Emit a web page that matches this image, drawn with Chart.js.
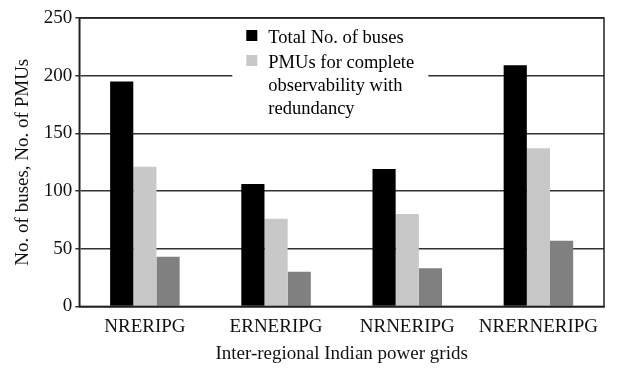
<!DOCTYPE html>
<html>
<head>
<meta charset="utf-8">
<script src="https://cdn.jsdelivr.net/npm/chart.js@4/dist/chart.umd.min.js"></script>
<style>
  html, body { margin: 0; padding: 0; background: #fff; }
  #wrap { width: 618px; height: 374px; }
</style>
</head>
<body>
<div id="wrap"><canvas id="gridChart" width="618" height="374"></canvas></div>
<script>
const grids = ['NRERIPG', 'ERNERIPG', 'NRNERIPG', 'NRERNERIPG'];
const totalBuses = [195, 106, 119, 209];
const pmusRedundancy = [121, 76, 80, 137];
const pmusThird = [43, 30, 33, 57];
const yTicks = [0, 50, 100, 150, 200, 250];

const serif = 'Liberation Serif, Times New Roman, serif';

// legend with white box, only the first two series are listed
const boxLegend = {
    id: 'boxLegend',
    afterDatasetsDraw(chart) {
        const ctx = chart.ctx;
        const area = chart.chartArea;
        const x = area.left + 153;
        const y = area.top + 7;
        ctx.save();
        ctx.fillStyle = '#fff';
        ctx.fillRect(x, y, 196, 100);
        ctx.font = '18.5px ' + serif;
        ctx.textBaseline = 'middle';
        ctx.fillStyle = '#000';
        ctx.fillRect(x + 14, y + 5, 11, 11);
        ctx.fillText('Total No. of buses', x + 36, y + 13);
        ctx.fillStyle = '#c8c8c8';
        ctx.fillRect(x + 14, y + 30, 11, 11);
        ctx.fillStyle = '#000';
        const lines = ['PMUs for complete', 'observability with', 'redundancy'];
        lines.forEach((t, i) => ctx.fillText(t, x + 36, y + 38 + i * 23));
        ctx.restore();
    },
    afterDraw(chart) {
        const ctx = chart.ctx;
        const a = chart.chartArea;
        ctx.save();
        ctx.strokeStyle = '#222';
        ctx.lineWidth = 1.5;
        ctx.strokeRect(a.left, a.top, a.right - a.left, a.bottom - a.top);
        ctx.restore();
    }
};

new Chart(document.getElementById('gridChart'), {
    type: 'bar',
    data: {
        labels: grids,
        datasets: [
            { label: 'Total No. of buses', data: totalBuses, backgroundColor: '#000000' },
            { label: 'PMUs for complete observability with redundancy', data: pmusRedundancy, backgroundColor: '#c8c8c8' },
            { label: 'PMUs', data: pmusThird, backgroundColor: '#808080' }
        ]
    },
    options: {
        responsive: false,
        animation: false,
        layout: { padding: { top: 18, right: 14, left: 8, bottom: 5 } },
        datasets: { bar: { barPercentage: 1, categoryPercentage: 0.53 } },
        plugins: {
            legend: { display: false },
            tooltip: { enabled: false }
        },
        scales: {
            x: {
                grid: { display: false },
                border: { color: '#222', width: 1.5 },
                ticks: { color: '#111', font: { family: serif, size: 19 }, padding: 1 },
                title: {
                    display: true,
                    text: 'Inter-regional Indian power grids',
                    color: '#111',
                    font: { family: serif, size: 19 },
                    padding: { top: 3 }
                }
            },
            y: {
                min: 0,
                max: 250,
                afterBuildTicks(axis) {
                    axis.ticks = yTicks.map(v => ({ value: v }));
                },
                grid: { color: '#333', lineWidth: 1.5, tickLength: 4 },
                border: { color: '#222', width: 1.5 },
                ticks: { color: '#111', font: { family: serif, size: 19 }, padding: 3 },
                title: {
                    display: true,
                    text: 'No. of buses, No. of PMUs',
                    color: '#111',
                    font: { family: serif, size: 19 },
                    padding: { bottom: 6 }
                }
            }
        }
    },
    plugins: [boxLegend]
});
</script>
</body>
</html>
